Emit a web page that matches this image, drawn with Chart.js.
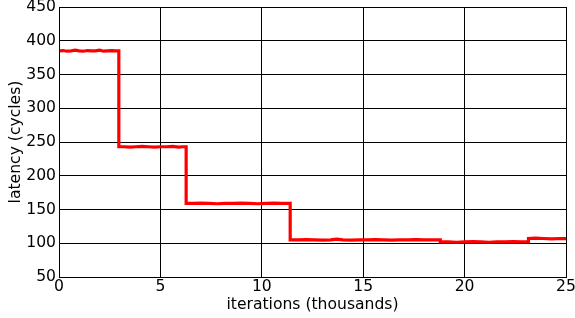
<!DOCTYPE html>
<html>
<head>
<meta charset="utf-8">
<script src="https://cdn.jsdelivr.net/npm/chart.js@4/dist/chart.umd.min.js"></script>
<style>
  html, body { margin: 0; padding: 0; background: #fff; }
  #wrap { width: 575px; height: 318px; }
</style>
</head>
<body>
<div id="wrap"><canvas id="latencyChart" width="575" height="318"></canvas></div>
<script>
// iterations in thousands, latency in cycles
const iters = [
  0, 0.2, 0.4, 0.6, 0.8, 1.0, 1.2, 1.4, 1.6, 1.8, 2.0, 2.2, 2.4, 2.6, 2.8, 2.95,
  2.95, 3.2, 3.5, 3.8, 4.1, 4.4, 4.7, 5.0, 5.3, 5.6, 5.9, 6.1, 6.27,
  6.27, 6.6, 7.0, 7.4, 7.8, 8.2, 8.6, 9.0, 9.4, 9.8, 10.2, 10.6, 11.0, 11.4,
  11.4, 11.8, 12.2, 12.6, 13.0, 13.4, 13.7, 14.0, 14.4, 14.8, 15.2, 15.6, 16.0, 16.4, 16.8, 17.2, 17.6, 18.0, 18.4, 18.8,
  18.8, 19.2, 19.6, 20.0, 20.4, 20.8, 21.2, 21.6, 22.0, 22.4, 22.8, 23.15,
  23.15, 23.5, 23.9, 24.3, 24.7, 25
];
const latency = [
  385, 385.5, 384.5, 385, 386, 385, 384.5, 385.5, 385, 385, 386, 384.5, 385, 385.5, 385, 385,
  243, 243, 242.5, 243, 243.5, 243, 242.5, 243, 243, 243.5, 242.5, 243, 243,
  159, 159, 159.5, 159, 158.5, 159, 159, 159.5, 159, 158.5, 159, 159.5, 159, 159,
  105, 105, 105.5, 105, 104.5, 105, 106, 105, 104.5, 105, 105, 105.5, 105, 104.5, 105, 105, 105.5, 105, 105, 105,
  102, 102, 101.5, 102, 102.5, 102, 101.5, 102, 102, 102.5, 102, 102,
  107, 107.5, 107, 106.5, 107, 107
];
const xTicks = [0, 5, 10, 15, 20, 25];
const yTicks = [50, 100, 150, 200, 250, 300, 350, 400, 450];

const font = { family: 'DejaVu Sans', size: 15.6 };

new Chart(document.getElementById('latencyChart'), {
  type: 'line',
  data: {
    datasets: [{
      data: iters.map((x, i) => ({ x: x, y: latency[i] })),
      borderColor: '#ff0000',
      borderWidth: 3.2,
      pointRadius: 0,
      tension: 0,
      fill: false
    }]
  },
  options: {
    responsive: false,
    animation: false,
    layout: { padding: { top: 7, right: 9, bottom: 0, left: 0 } },
    plugins: { legend: { display: false }, tooltip: { enabled: false } },
    scales: {
      x: {
        type: 'linear',
        min: 0,
        max: 25,
        afterBuildTicks: s => { s.ticks = xTicks.map(v => ({ value: v })); },
        afterFit: s => { s.height = 41; s.paddingLeft = 0; s.paddingRight = 0; },
        grid: { color: '#000', lineWidth: 1, drawTicks: false },
        border: { color: '#000', width: 1 },
        ticks: { color: '#000', font: font, padding: 1, maxRotation: 0 },
        title: { display: true, text: 'iterations (thousands)', color: '#000', font: font, padding: { top: 0, bottom: 4 } }
      },
      y: {
        min: 50,
        max: 450,
        afterBuildTicks: s => { s.ticks = yTicks.map(v => ({ value: v })); },
        afterFit: s => { s.width = 59; s.paddingTop = 0; s.paddingBottom = 0; },
        grid: { color: '#000', lineWidth: 1, drawTicks: false },
        border: { color: '#000', width: 1 },
        ticks: { color: '#000', font: font, padding: 3 },
        title: { display: true, text: 'latency (cycles)', color: '#000', font: font, padding: { top: 7, bottom: 0 } }
      }
    }
  },
  plugins: [{
    id: 'frame',
    afterDraw(chart) {
      const a = chart.chartArea, c = chart.ctx;
      c.save();
      c.strokeStyle = '#000';
      c.lineWidth = 1;
      c.strokeRect(Math.round(a.left) + 0.5, Math.round(a.top) + 0.5, Math.round(a.right - a.left), Math.round(a.bottom - a.top));
      c.restore();
    }
  }]
});
</script>
</body>
</html>
